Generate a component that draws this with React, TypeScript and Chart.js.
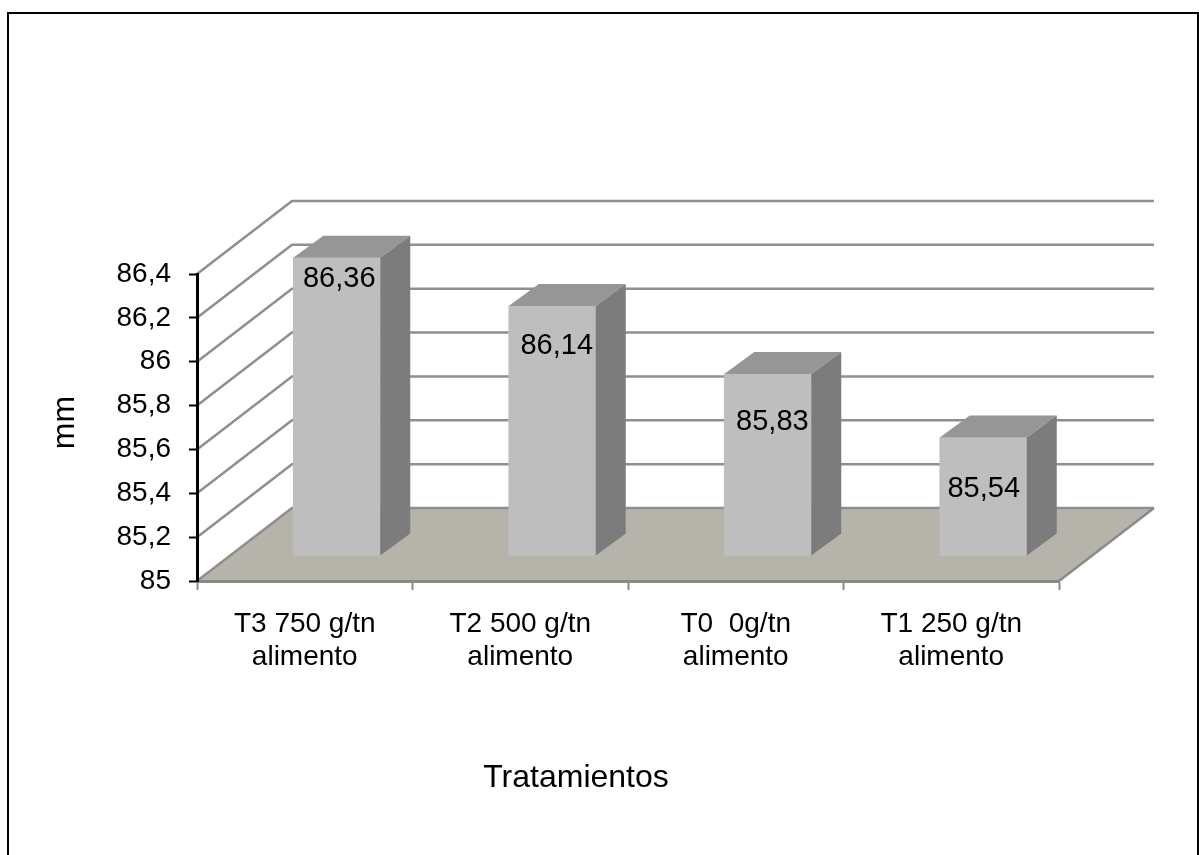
import React, { useEffect, useRef } from "react";
import { Chart, registerables } from "chart.js";

Chart.register(...registerables);

// Treatments and their mean length in mm
const categories = [
  ["T3 750 g/tn", "alimento"],
  ["T2 500 g/tn", "alimento"],
  ["T0  0g/tn", "alimento"],
  ["T1 250 g/tn", "alimento"],
];
const meanLength = [86.36, 86.14, 85.83, 85.54];
const valueLabels = ["86,36", "86,14", "85,83", "85,54"];
const yAxisTitle = "mm";
const xAxisTitle = "Tratamientos";

// Placement of the value labels relative to each column's front face
const labelShiftX = [2.5, 4.5, 4.6, 0.5];
const labelShiftY = [21, 40, 48, 51];

// Oblique projection of the box
const WALL_DX = 95;
const WALL_DY = -73;
const BAR_SHIFT_X = 32;
const BAR_SHIFT_Y = -25;
const BAR_DEPTH_X = 30;
const BAR_DEPTH_Y = -22;

const FONT = '"Liberation Sans", Arial, sans-serif';

const depthPlugin = {
  id: "depth",
  beforeDraw(chart: any) {
    const { ctx, chartArea: a, scales } = chart;
    ctx.save();
    ctx.fillStyle = "#ffffff";
    ctx.fillRect(0, 0, chart.width, chart.height);

    // outer frame, open at the bottom
    ctx.strokeStyle = "#000000";
    ctx.lineWidth = 2;
    ctx.beginPath();
    ctx.moveTo(8, chart.height);
    ctx.lineTo(8, 13);
    ctx.lineTo(1198, 13);
    ctx.lineTo(1198, chart.height);
    ctx.stroke();

    // floor
    ctx.fillStyle = "#b6b3ab";
    ctx.beginPath();
    ctx.moveTo(a.left, a.bottom);
    ctx.lineTo(a.right, a.bottom);
    ctx.lineTo(a.right + WALL_DX, a.bottom + WALL_DY);
    ctx.lineTo(a.left + WALL_DX, a.bottom + WALL_DY);
    ctx.closePath();
    ctx.fill();
    ctx.strokeStyle = "#8a8a8a";
    ctx.lineWidth = 2.5;
    ctx.beginPath();
    ctx.moveTo(a.right, a.bottom);
    ctx.lineTo(a.right + WALL_DX, a.bottom + WALL_DY);
    ctx.stroke();

    // gridlines folding from the side wall onto the back wall
    scales.y.ticks.forEach((t: any) => {
      const y = scales.y.getPixelForValue(t.value);
      ctx.beginPath();
      ctx.moveTo(a.left, y);
      ctx.lineTo(a.left + WALL_DX, y + WALL_DY);
      ctx.lineTo(a.right + WALL_DX, y + WALL_DY);
      ctx.strokeStyle = "#8f8f8f";
      ctx.lineWidth = 2.5;
      ctx.stroke();
    });
    ctx.restore();
  },
  beforeDatasetsDraw(chart: any) {
    chart.ctx.save();
    chart.ctx.translate(BAR_SHIFT_X, BAR_SHIFT_Y);
  },
  afterDatasetsDraw(chart: any) {
    const { ctx, chartArea: a } = chart;
    const bars = chart.getDatasetMeta(0).data;
    bars.forEach((bar: any) => {
      const l = bar.x - bar.width / 2;
      const r = bar.x + bar.width / 2;
      // top face
      ctx.fillStyle = "#969696";
      ctx.beginPath();
      ctx.moveTo(l, bar.y);
      ctx.lineTo(l + BAR_DEPTH_X, bar.y + BAR_DEPTH_Y);
      ctx.lineTo(r + BAR_DEPTH_X, bar.y + BAR_DEPTH_Y);
      ctx.lineTo(r, bar.y);
      ctx.closePath();
      ctx.fill();
      // side face
      ctx.fillStyle = "#7c7c7c";
      ctx.beginPath();
      ctx.moveTo(r, bar.y);
      ctx.lineTo(r + BAR_DEPTH_X, bar.y + BAR_DEPTH_Y);
      ctx.lineTo(r + BAR_DEPTH_X, bar.base + BAR_DEPTH_Y);
      ctx.lineTo(r, bar.base);
      ctx.closePath();
      ctx.fill();
    });
    ctx.restore();

    // value labels
    ctx.save();
    ctx.fillStyle = "#000000";
    ctx.textAlign = "center";
    ctx.textBaseline = "middle";
    ctx.font = `29px ${FONT}`;
    bars.forEach((bar: any, i: number) => {
      ctx.fillText(
        valueLabels[i],
        bar.x + BAR_SHIFT_X + labelShiftX[i],
        bar.y + BAR_SHIFT_Y + labelShiftY[i]
      );
    });

    // axis titles
    ctx.font = `32px ${FONT}`;
    ctx.fillText(xAxisTitle, 576, 778);
    ctx.translate(65, (a.top + a.bottom) / 2 - 5);
    ctx.rotate(-Math.PI / 2);
    ctx.fillText(yAxisTitle, 0, 0);
    ctx.restore();
  },
};

export default function App() {
  const ref = useRef<HTMLCanvasElement>(null);

  useEffect(() => {
    const chart = new Chart(ref.current!, {
      type: "bar",
      data: {
        labels: categories as any,
        datasets: [
          {
            data: meanLength,
            base: 85,
            backgroundColor: "#bebebe",
            barThickness: 87,
            clip: false,
          } as any,
        ],
      },
      options: {
        responsive: false,
        animation: false,
        layout: { padding: { top: 274, right: 140, left: 0, bottom: 0 } },
        plugins: { legend: { display: false }, tooltip: { enabled: false } },
        scales: {
          x: {
            grid: {
              drawOnChartArea: false,
              tickLength: 9,
              tickColor: "#8a8a8a",
              tickWidth: 2,
            },
            border: { color: "#8a8a8a", width: 3 },
            ticks: {
              color: "#000000",
              autoSkip: false,
              maxRotation: 0,
              minRotation: 0,
              padding: 17,
              font: { family: FONT, size: 28, lineHeight: 1.2 },
            },
            afterFit: (s: any) => {
              s.height = 855 - 581;
            },
          },
          y: {
            min: 85,
            max: 86.4,
            grid: {
              drawOnChartArea: false,
              tickLength: 8,
              tickColor: "#000000",
              tickWidth: 2,
            },
            border: { color: "#000000", width: 3 },
            ticks: {
              stepSize: 0.2,
              padding: 18,
              color: "#000000",
              font: { family: FONT, size: 28 },
              callback: (v: any) => String(Math.round(Number(v) * 10) / 10).replace(".", ","),
            },
            afterFit: (s: any) => {
              s.width = 197;
            },
          },
        },
      },
      plugins: [depthPlugin],
    });
    return () => chart.destroy();
  }, []);

  return (
    <canvas
      ref={ref}
      width={1199}
      height={855}
      style={{ position: "absolute", left: 0, top: 0, display: "block" }}
    />
  );
}
